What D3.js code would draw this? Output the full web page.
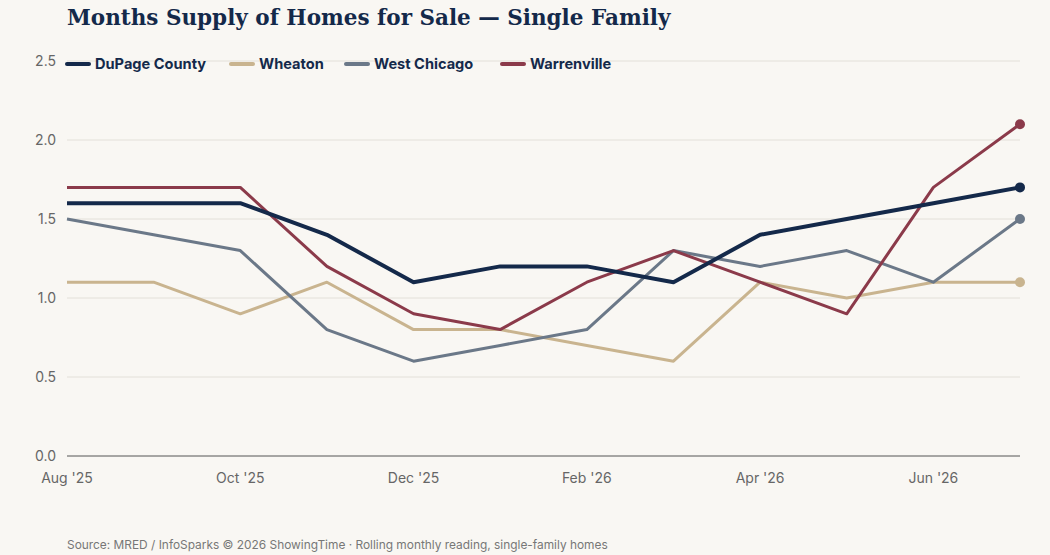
<!DOCTYPE html>
<html><head><meta charset="utf-8">
<script src="https://cdn.jsdelivr.net/npm/d3@7"></script>
<style>body{margin:0;background:#f9f7f3;}svg{display:block;}</style>
</head><body><svg width="1050" height="555"></svg>
<script>
const months = ["Aug '25","Sep '25","Oct '25","Nov '25","Dec '25","Jan '26","Feb '26","Mar '26","Apr '26","May '26","Jun '26","Jul '26"];
const tickLabels = ["Aug '25","Oct '25","Dec '25","Feb '26","Apr '26","Jun '26"];
const yTicks = [0,0.5,1,1.5,2,2.5];
const seriesNames = ["DuPage County","Wheaton","West Chicago","Warrenville"];
const dupage = [1.6,1.6,1.6,1.4,1.1,1.2,1.2,1.1,1.4,1.5,1.6,1.7];
const wheaton = [1.1,1.1,0.9,1.1,0.8,0.8,0.7,0.6,1.1,1.0,1.1,1.1];
const westChicago = [1.5,1.4,1.3,0.8,0.6,0.7,0.8,1.3,1.2,1.3,1.1,1.5];
const warrenville = [1.7,1.7,1.7,1.2,0.9,0.8,1.1,1.3,1.1,0.9,1.7,2.1];
const colors = ["#14294a","#c9b48f","#6b7888","#8b3a4a"];
const widths = [4,3,3,3];
const data = [dupage,wheaton,westChicago,warrenville];

const svg = d3.select("svg");
svg.append("rect").attr("width",1050).attr("height",555).attr("fill","#f9f7f3");
const x = d3.scalePoint().domain(months).range([67,1020]);
const y = d3.scaleLinear().domain([0,2.5]).range([456,61]);

svg.append("text").attr("x",67).attr("y",25).text("Months Supply of Homes for Sale — Single Family")
  .attr("font-family","'DejaVu Serif', serif").attr("font-weight","bold").attr("font-size",21.5).attr("fill","#14294a");

const g = svg.append("g");
yTicks.forEach(t=>{
  g.append("line").attr("x1",67).attr("x2",1020).attr("y1",y(t)).attr("y2",y(t))
    .attr("stroke", t===0?"#555":"#e3e0d9").attr("stroke-width",1);
  g.append("text").attr("x",56).attr("y",y(t)+5).attr("text-anchor","end").text(t.toFixed(1))
    .attr("font-family","Inter, sans-serif").attr("font-size",14).attr("fill","#666");
});
tickLabels.forEach(m=>{
  g.append("text").attr("x",x(m)).attr("y",483).attr("text-anchor","middle").text(m)
    .attr("font-family","Inter, sans-serif").attr("font-size",14).attr("fill","#666");
});

const line = d3.line().x((d,i)=>x(months[i])).y(d=>y(d));
[1,2,3,0].forEach(k=>{
  svg.append("path").datum(data[k]).attr("d",line).attr("fill","none")
    .attr("stroke",colors[k]).attr("stroke-width",widths[k]).attr("stroke-linejoin","round");
  svg.append("circle").attr("cx",x(months[11])).attr("cy",y(data[k][11])).attr("r",5).attr("fill",colors[k]);
});

const legX = [67,231,346,502];
seriesNames.forEach((n,i)=>{
  const lg = svg.append("g").attr("transform",`translate(${legX[i]},64)`);
  lg.append("line").attr("x1",0).attr("x2",22).attr("stroke",colors[i]).attr("stroke-width",4).attr("stroke-linecap","round");
  lg.append("text").attr("x",28).attr("y",5).text(n).attr("font-family","Inter, sans-serif")
    .attr("font-weight","bold").attr("font-size",14.6).attr("fill","#14294a");
});

svg.append("text").attr("x",67).attr("y",549).text("Source: MRED / InfoSparks © 2026 ShowingTime · Rolling monthly reading, single-family homes")
  .attr("font-family","Inter, sans-serif").attr("font-size",11.9).attr("fill","#777");
</script></body></html>
